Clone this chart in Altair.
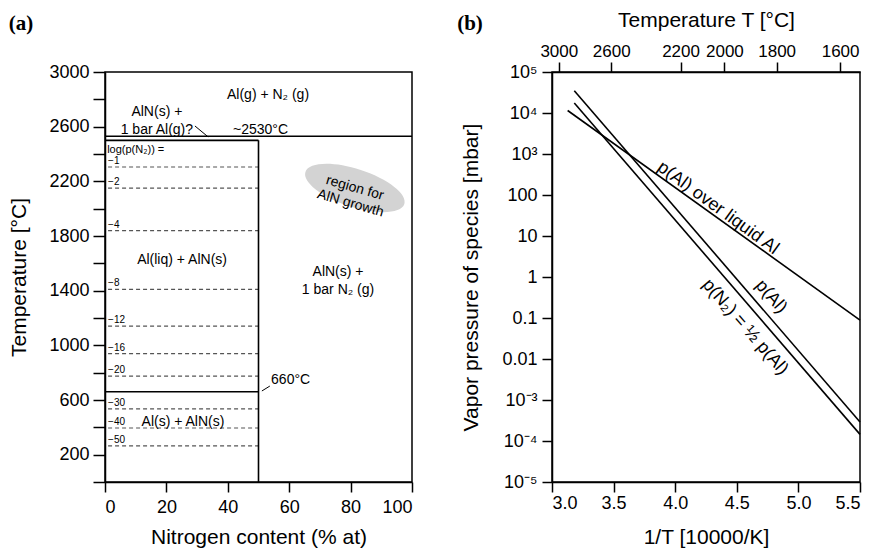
import altair as alt
import pandas as pd

FONT = "Liberation Sans"
SERIF = "Liberation Serif"

# ---------------- Panel (a): phase diagram ----------------
# solid phase boundaries (N %, T °C)
SOLID_X = [0, 0, 50, 0]
SOLID_X2 = [100, 50, 50, 50]
SOLID_Y = [2530, 2500, 0, 660]
SOLID_Y2 = [2530, 2500, 2500, 660]

# leader lines for annotations
LEADER_X = [29.3, 51.1]
LEADER_X2 = [33.6, 53.7]
LEADER_Y = [2605, 666]
LEADER_Y2 = [2525, 702]

# iso-pressure lines: log(p(N2)) labels and their temperatures
LOG_PN2 = ["\u22121", "\u22122", "\u22124", "\u22128", "\u221212", "\u221216",
           "\u221220", "\u221230", "\u221240", "\u221250"]
ISO_T = [2305, 2150, 1840, 1410, 1140, 940, 775, 535, 395, 265]
ISO_X0 = 1
ISO_X1 = 50

# text annotations
ANN_C_TEXT = ["Al(g) + N\u2082 (g)", "AlN(s) +\n1 bar Al(g)?", "Al(liq) + AlN(s)",
              "Al(s) + AlN(s)", "AlN(s) +\n1 bar N\u2082 (g)"]
ANN_C_X = [53.1, 16.9, 25.1, 25.4, 75.9]
ANN_C_Y = [2832, 2705, 1624, 439, 1537]

ANN_L_TEXT = ["~2530\u00b0C", "660\u00b0C", "log(p(N\u2082)) ="]
ANN_L_X = [41.7, 54.1, 0.7]
ANN_L_Y = [2576, 746, 2429]
ANN_L_SIZE = [14, 14, 11]

# growth region ellipse
REGION_X = [81.4]
REGION_Y = [2151]
REGION_TEXT = ["region for\nAlN growth"]

# left y axis ticks / labels
YA_TICKS = list(range(0, 3001, 200))
YA_LABELED = [200, 600, 1000, 1400, 1800, 2200, 2600, 3000]

# ---------------- Panel (b): vapour pressures ----------------
SERIES = ["p(Al) over liquid Al", "p(Al)", "p(N2)"]
INV_T_START = [3.127, 3.181, 3.181]
INV_T_END = [5.5, 5.5, 5.5]
P_START = [1.15e4, 3.5e4, 1.75e4]
P_END = [0.089, 2.9e-4, 1.45e-4]

LABEL_TEXT = ["p(Al) over liquid Al", "p(Al)", "p(N\u2082) = \u00bd p(Al)"]
LABEL_X = [4.347, 4.778, 4.567]
LABEL_P = [48, 0.33, 0.06]
LABEL_ANGLE = [36, 49, 49]

X_TICKS = [3.0, 3.5, 4.0, 4.5, 5.0, 5.5]
Y_TICK_LABELS = ["10\u207b\u2075", "10\u207b\u2074", "10\u207b\u00b3", "0.01", "0.1",
                 "1", "10", "100", "10\u00b3", "10\u2074", "10\u2075"]
TOP_T = [3000, 2600, 2200, 2000, 1800, 1600]

# ================= build panel (a) =================
xa_scale = alt.Scale(domain=[0, 100], nice=False, zero=False)
ya_scale = alt.Scale(domain=[0, 3000], nice=False, zero=False)

ya_lab_js = "[" + ",".join(str(v) for v in YA_LABELED) + "]"
xa_axis = alt.Axis(values=list(range(0, 101, 20)), format="d", title="Nitrogen content (% at)",
                   tickSize=10, labelPadding=6, titlePadding=10)
ya_axis = alt.Axis(values=YA_TICKS, labelOverlap=False, format="d",
                   labelExpr="indexof(" + ya_lab_js + ", datum.value) >= 0 ? '' + datum.value : ''",
                   title="Temperature [\u00b0C]", tickSize=12, labelPadding=4, titlePadding=19)

solid_df = pd.DataFrame({"x": SOLID_X, "x2": SOLID_X2, "y": SOLID_Y, "y2": SOLID_Y2})
leader_df = pd.DataFrame({"x": LEADER_X, "x2": LEADER_X2, "y": LEADER_Y, "y2": LEADER_Y2})
iso_df = pd.DataFrame({"lab": LOG_PN2, "y": ISO_T, "x": [ISO_X0] * len(ISO_T),
                       "x2": [ISO_X1] * len(ISO_T)})
annc_df = pd.DataFrame({"t": ANN_C_TEXT, "x": ANN_C_X, "y": ANN_C_Y})
annl_df = pd.DataFrame({"t": ANN_L_TEXT, "x": ANN_L_X, "y": ANN_L_Y, "s": ANN_L_SIZE})
region_df = pd.DataFrame({"t": REGION_TEXT, "x": REGION_X, "y": REGION_Y})

solid = alt.Chart(solid_df).mark_rule(color="black", strokeWidth=1.6).encode(
    x=alt.X("x:Q", scale=xa_scale, axis=xa_axis), x2="x2:Q",
    y=alt.Y("y:Q", scale=ya_scale, axis=ya_axis), y2="y2:Q")
leader = alt.Chart(leader_df).mark_rule(color="black", strokeWidth=1).encode(
    x=alt.X("x:Q", scale=xa_scale, axis=xa_axis), x2="x2:Q",
    y=alt.Y("y:Q", scale=ya_scale, axis=ya_axis), y2="y2:Q")
iso = alt.Chart(iso_df).mark_rule(color="#555555", strokeWidth=1.2, strokeDash=[4, 3]).encode(
    x=alt.X("x:Q", scale=xa_scale, axis=xa_axis), x2="x2:Q",
    y=alt.Y("y:Q", scale=ya_scale, axis=ya_axis))
iso_lab = alt.Chart(iso_df).mark_text(font=FONT, fontSize=10, align="left", baseline="bottom",
                                      dy=-1, color="black").encode(
    x=alt.X("x:Q", scale=xa_scale, axis=xa_axis), y=alt.Y("y:Q", scale=ya_scale, axis=ya_axis),
    text="lab:N")
annc = alt.Chart(annc_df).mark_text(font=FONT, fontSize=14, align="center", baseline="middle",
                                    lineBreak="\n", lineHeight=18, color="black").encode(
    x=alt.X("x:Q", scale=xa_scale, axis=xa_axis), y=alt.Y("y:Q", scale=ya_scale, axis=ya_axis),
    text="t:N")
annl = alt.Chart(annl_df).mark_text(font=FONT, align="left", baseline="middle",
                                    color="black").encode(
    x=alt.X("x:Q", scale=xa_scale, axis=xa_axis), y=alt.Y("y:Q", scale=ya_scale, axis=ya_axis),
    text="t:N", size=alt.Size("s:Q", scale=None))
ELLIPSE = "M-1,0A1,0.365,0,1,1,1,0A1,0.365,0,1,1,-1,0Z"
region = alt.Chart(region_df).mark_point(shape=ELLIPSE, size=10816, angle=18, filled=True,
                                         color="#d3d3d3", opacity=1, strokeWidth=0).encode(
    x=alt.X("x:Q", scale=xa_scale, axis=xa_axis), y=alt.Y("y:Q", scale=ya_scale, axis=ya_axis))
region_txt = alt.Chart(region_df).mark_text(font=FONT, fontSize=14, angle=16, align="center",
                                            baseline="middle", lineBreak="\n", lineHeight=16,
                                            color="black").encode(
    x=alt.X("x:Q", scale=xa_scale, axis=xa_axis), y=alt.Y("y:Q", scale=ya_scale, axis=ya_axis),
    text="t:N")
tag_a = alt.Chart(pd.DataFrame({"t": ["(a)"]})).mark_text(
    font=SERIF, fontSize=21, fontWeight="bold", align="center", baseline="middle",
    color="black").encode(text="t:N", x=alt.value(-84), y=alt.value(-48))

left = alt.layer(region, region_txt, iso, iso_lab, solid, leader, annc, annl, tag_a).properties(
    width=307, height=410)

# ================= build panel (b) =================
rows = []
for s, x0, x1, p0, p1 in zip(SERIES, INV_T_START, INV_T_END, P_START, P_END):
    rows.append({"series": s, "inv": x0, "p": p0})
    rows.append({"series": s, "inv": x1, "p": p1})
lines_df = pd.DataFrame(rows)
lab_df = pd.DataFrame({"t": LABEL_TEXT, "inv": LABEL_X, "p": LABEL_P, "ang": LABEL_ANGLE})
top_df = pd.DataFrame({"inv": [10000.0 / (t + 273.15) for t in TOP_T]})

xb_scale = alt.Scale(domain=[3.0, 5.5], nice=False, zero=False)
yb_scale = alt.Scale(type="log", domain=[1e-5, 1e5], nice=False)

ylab_js = "[" + ",".join("'%s'" % s for s in Y_TICK_LABELS) + "]"
yb_axis = alt.Axis(values=[10.0 ** k for k in range(-5, 6)],
                   labelExpr=ylab_js + "[round(log(datum.value)/LN10)+5]",
                   title="Vapor pressure of species [mbar]", tickSize=10, labelPadding=5,
                   titlePadding=20)
xb_axis = alt.Axis(values=X_TICKS, format=".1f", title="1/T [10000/K]", tickSize=10,
                   labelPadding=2, titlePadding=14)
top_axis = alt.Axis(orient="top", values=list(top_df["inv"]),
                    labelExpr="format(10000/datum.value - 273.15, '.0f')",
                    title="Temperature T [\u00b0C]", tickSize=10, labelPadding=2,
                    labelFontSize=17, titlePadding=12)

lines = alt.Chart(lines_df).mark_line(color="black", strokeWidth=1.6).encode(
    x=alt.X("inv:Q", scale=xb_scale, axis=xb_axis),
    y=alt.Y("p:Q", scale=yb_scale, axis=yb_axis),
    detail="series:N")
labels = alt.Chart(lab_df).mark_text(font=FONT, fontSize=18, align="center", baseline="middle",
                                     color="black").encode(
    x=alt.X("inv:Q", scale=xb_scale, axis=None),
    y=alt.Y("p:Q", scale=yb_scale, axis=yb_axis),
    text="t:N", angle=alt.Angle("ang:Q", scale=None))
top = alt.Chart(top_df).mark_point(opacity=0).encode(
    x=alt.X("inv:Q", scale=xb_scale, axis=top_axis), y=alt.value(0))
tag_b = alt.Chart(pd.DataFrame({"t": ["(b)"]})).mark_text(
    font=SERIF, fontSize=21, fontWeight="bold", align="center", baseline="middle",
    color="black").encode(text="t:N", x=alt.value(-82), y=alt.value(-48))

right = alt.layer(lines, labels, top, tag_b).resolve_scale(x="independent").properties(
    width=308, height=410)

chart = alt.hconcat(left, right, spacing=42, padding={"left": 0, "top": 0, "right": 0, "bottom": 0}
                    ).configure_view(stroke="black", strokeWidth=1.5).configure_axis(
    labelFont=FONT, titleFont=FONT, labelFontSize=18, titleFontSize=21, labelColor="black",
    titleColor="black", domainColor="black", tickColor="black", domainWidth=1.5, tickWidth=1.5,
    grid=False, titleFontWeight="normal")

chart.save("out.html", embed_options={"renderer": "svg", "actions": False})
